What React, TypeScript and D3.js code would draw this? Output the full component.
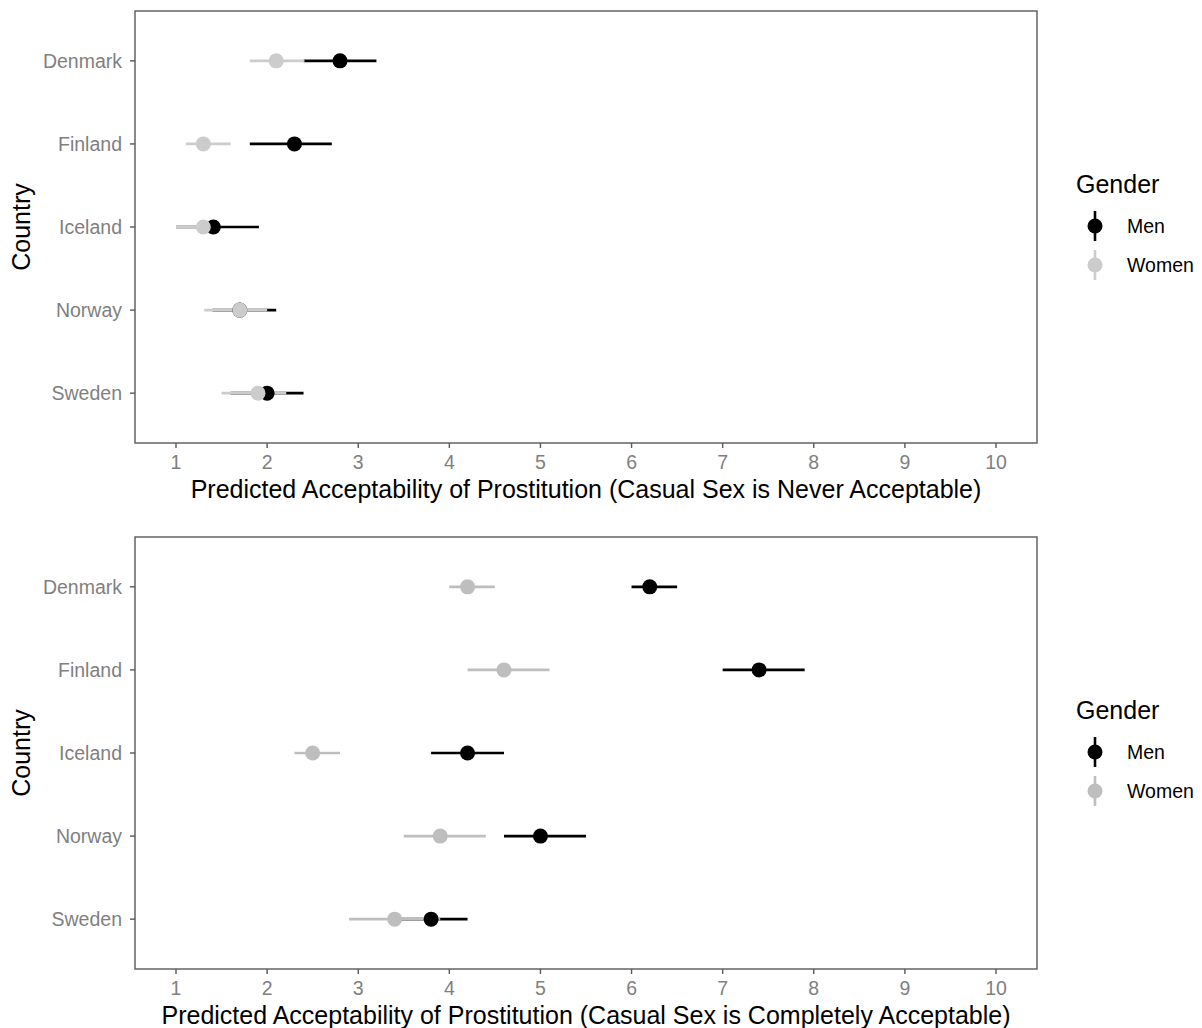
import React from "react";
import * as d3 from "d3";

const countries = ["Denmark", "Finland", "Iceland", "Norway", "Sweden"];
const xTicks = [1, 2, 3, 4, 5, 6, 7, 8, 9, 10];

// Panel 1: Casual sex never acceptable
const menNever = [2.8, 2.3, 1.41, 1.7, 2.0];
const menNeverLo = [2.4, 1.81, 1.0, 1.4, 1.6];
const menNeverHi = [3.2, 2.71, 1.91, 2.1, 2.4];
const womenNever = [2.1, 1.3, 1.3, 1.7, 1.9];
const womenNeverLo = [1.81, 1.11, 1.0, 1.31, 1.5];
const womenNeverHi = [2.41, 1.6, 1.48, 2.0, 2.21];

// Panel 2: Casual sex completely acceptable
const menComplete = [6.2, 7.4, 4.2, 5.0, 3.8];
const menCompleteLo = [6.0, 7.0, 3.8, 4.6, 3.4];
const menCompleteHi = [6.5, 7.9, 4.6, 5.5, 4.2];
const womenComplete = [4.2, 4.6, 2.5, 3.9, 3.4];
const womenCompleteLo = [4.0, 4.2, 2.3, 3.5, 2.9];
const womenCompleteHi = [4.5, 5.1, 2.8, 4.4, 3.9];

const FONT = "'Liberation Sans', Arial, sans-serif";
const TICK_FS = 19.5;
const TITLE_FS = 25;

type Series = { name: string; color: string; v: number[]; lo: number[]; hi: number[] };

function Panel({ top, title, series }: { top: number; title: string; series: Series[] }) {
  const left = 135, right = 1037, height = 432;
  const x = d3.scaleLinear().domain([0.55, 10.45]).range([left, right]);
  const y = d3.scalePoint<string>().domain(countries).range([top, top + height]).padding(0.6);
  const bottom = top + height;
  const midY = top + height / 2;
  return (
    <g>
      {series.map((s) =>
        countries.map((c, i) => (
          <line key={s.name + c} x1={x(s.lo[i])} x2={x(s.hi[i])} y1={y(c)} y2={y(c)} stroke={s.color} strokeWidth={2.6} />
        ))
      )}
      {series.map((s) =>
        countries.map((c, i) => (
          <circle key={s.name + c + "p"} cx={x(s.v[i])} cy={y(c)} r={7.5} fill={s.color} />
        ))
      )}
      <rect x={left} y={top} width={right - left} height={height} fill="none" stroke="#595959" strokeWidth={1.4} />
      {countries.map((c) => (
        <g key={c}>
          <line x1={left - 5} x2={left} y1={y(c)} y2={y(c)} stroke="#595959" strokeWidth={1.4} />
          <text x={left - 13} y={y(c)} dy="0.35em" textAnchor="end" fontSize={TICK_FS} fill="#7f7f7f" fontFamily={FONT}>{c}</text>
        </g>
      ))}
      {xTicks.map((t) => (
        <g key={t}>
          <line x1={x(t)} x2={x(t)} y1={bottom} y2={bottom + 5} stroke="#595959" strokeWidth={1.4} />
          <text x={x(t)} y={bottom + 26} textAnchor="middle" fontSize={TICK_FS} fill="#7f7f7f" fontFamily={FONT}>{t}</text>
        </g>
      ))}
      <text x={(left + right) / 2} y={bottom + 55} textAnchor="middle" fontSize={TITLE_FS} fill="#000" fontFamily={FONT}>{title}</text>
      <text transform={`translate(30,${midY}) rotate(-90)`} textAnchor="middle" fontSize={TITLE_FS} fill="#000" fontFamily={FONT}>Country</text>
      <g>
        <text x={1076} y={midY - 34} fontSize={TITLE_FS} fill="#000" fontFamily={FONT}>Gender</text>
        {series.map((s, i) => {
          const ky = midY - 1 + i * 39;
          return (
            <g key={s.name}>
              <line x1={1095} x2={1095} y1={ky - 15} y2={ky + 15} stroke={s.color} strokeWidth={2.6} />
              <circle cx={1095} cy={ky} r={7.5} fill={s.color} />
              <text x={1127} y={ky} dy="0.35em" fontSize={TICK_FS} fill="#000" fontFamily={FONT}>{s.name}</text>
            </g>
          );
        })}
      </g>
    </g>
  );
}

export default function App() {
  const topSeries: Series[] = [
    { name: "Men", color: "#000000", v: menNever, lo: menNeverLo, hi: menNeverHi },
    { name: "Women", color: "#cccccc", v: womenNever, lo: womenNeverLo, hi: womenNeverHi },
  ];
  const bottomSeries: Series[] = [
    { name: "Men", color: "#000000", v: menComplete, lo: menCompleteLo, hi: menCompleteHi },
    { name: "Women", color: "#bebebe", v: womenComplete, lo: womenCompleteLo, hi: womenCompleteHi },
  ];
  return (
    <svg width={1202} height={1028} style={{ position: "absolute", left: 0, top: 0, background: "#fff" }}>
      <rect width={1202} height={1028} fill="#fff" />
      <Panel top={11} title="Predicted Acceptability of Prostitution (Casual Sex is Never Acceptable)" series={topSeries} />
      <Panel top={537} title="Predicted Acceptability of Prostitution (Casual Sex is Completely Acceptable)" series={bottomSeries} />
    </svg>
  );
}
